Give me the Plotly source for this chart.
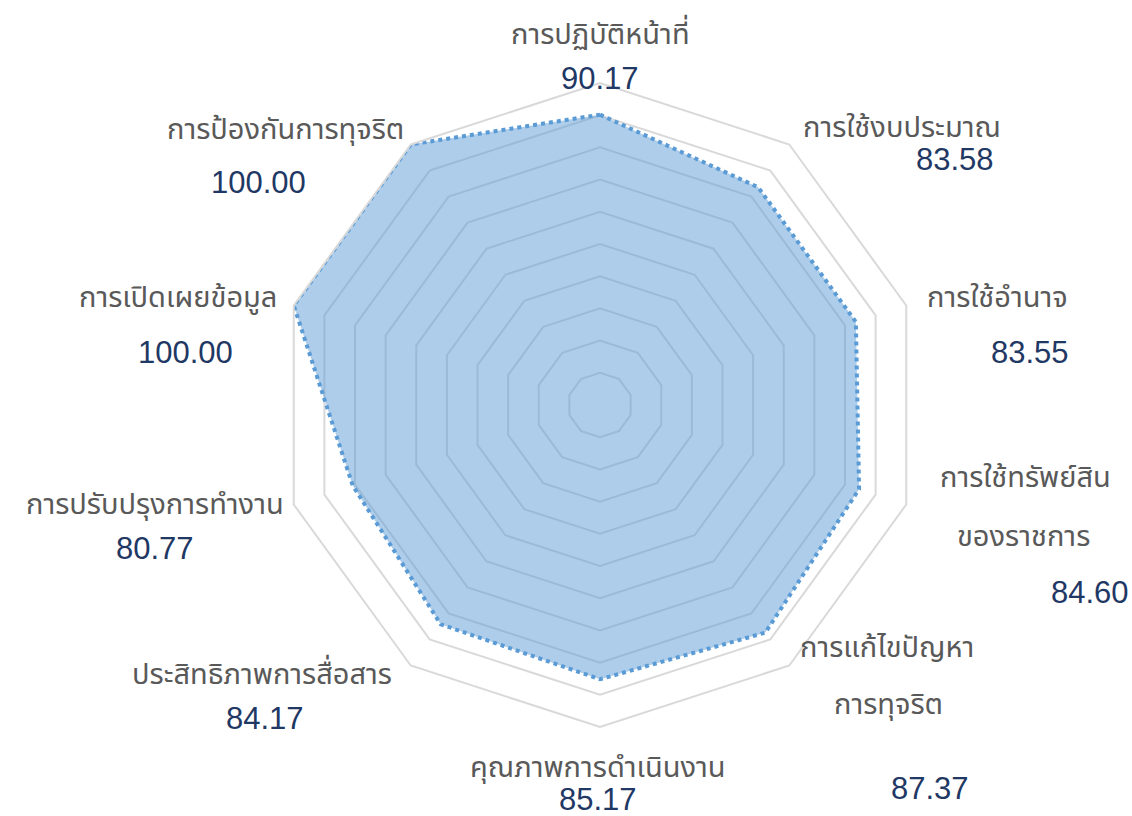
import plotly.graph_objects as go

categories = ["การปฏิบัติหน้าที่", "การใช้งบประมาณ", "การใช้อำนาจ", "การใช้ทรัพย์สินของราชการ",
              "การแก้ไขปัญหาการทุจริต", "คุณภาพการดำเนินงาน", "ประสิทธิภาพการสื่อสาร",
              "การปรับปรุงการทำงาน", "การเปิดเผยข้อมูล", "การป้องกันการทุจริต"]
values = [90.17, 83.58, 83.55, 84.60, 87.37, 85.17, 84.17, 80.77, 100.00, 100.00]
label_lines = [["การปฏิบัติหน้าที่"], ["การใช้งบประมาณ"], ["การใช้อำนาจ"], ["การใช้ทรัพย์สิน", "ของราชการ"],
               ["การแก้ไขปัญหา", "การทุจริต"], ["คุณภาพการดำเนินงาน"], ["ประสิทธิภาพการสื่อสาร"],
               ["การปรับปรุงการทำงาน"], ["การเปิดเผยข้อมูล"], ["การป้องกันการทุจริต"]]

W, H = 1132, 816
# label layout (pixel centres): name lines, then value
name_pos = [[(600, 35)], [(902, 128)], [(997, 298)], [(1025, 478), (1023, 537)],
            [(887, 648), (888, 705)], [(598, 768)], [(262, 675)], [(155, 505)],
            [(178, 298)], [(285, 130)]]
value_pos = [(600, 78), (955, 160), (1030, 352), (1090, 592), (930, 788),
             (598, 799), (265, 718), (155, 548), (185, 352), (258, 183)]

cx, cy, R = 600, 405, 322

fig = go.Figure()
fig.add_trace(go.Scatterpolar(
    r=values + values[:1], theta=categories + categories[:1],
    mode="lines", fill="toself",
    fillcolor="rgba(91,155,213,0.5)",
    line=dict(color="#5B9BD5", width=4, dash="4px,4px"),
    hoverinfo="skip", showlegend=False,
))

thai_font = "Noto Sans Thai, Tahoma, Noto Sans, sans-serif"
annotations = []
for lines, poss, v, vp in zip(label_lines, name_pos, values, value_pos):
    for t, (px, py) in zip(lines, poss):
        annotations.append(dict(x=px / W, y=1 - py / H, xref="paper", yref="paper",
                                text=t, showarrow=False, xanchor="center", yanchor="middle",
                                font=dict(family=thai_font, size=29, color="#595959")))
    annotations.append(dict(x=vp[0] / W, y=1 - vp[1] / H, xref="paper", yref="paper",
                            text=f"{v:.2f}", showarrow=False, xanchor="center", yanchor="middle",
                            font=dict(family="Liberation Sans, Arial, sans-serif", size=31, color="#1F3864")))

fig.update_layout(
    width=W, height=H, margin=dict(l=0, r=0, t=0, b=0),
    paper_bgcolor="white", plot_bgcolor="white",
    annotations=annotations,
    polar=dict(
        domain=dict(x=[(cx - R) / W, (cx + R) / W], y=[(H - cy - R) / H, (H - cy + R) / H]),
        gridshape="linear", bgcolor="white",
        radialaxis=dict(range=[0, 100], dtick=10, showticklabels=False, ticks="",
                        showline=False, gridcolor="#D9D9D9", gridwidth=2),
        angularaxis=dict(direction="clockwise", rotation=90, showticklabels=False, ticks="",
                         showgrid=False, linecolor="#D9D9D9", linewidth=2),
    ),
)

fig.write_html("out.html", config={"displayModeBar": False},
               post_script="document.body.style.margin='0';")
